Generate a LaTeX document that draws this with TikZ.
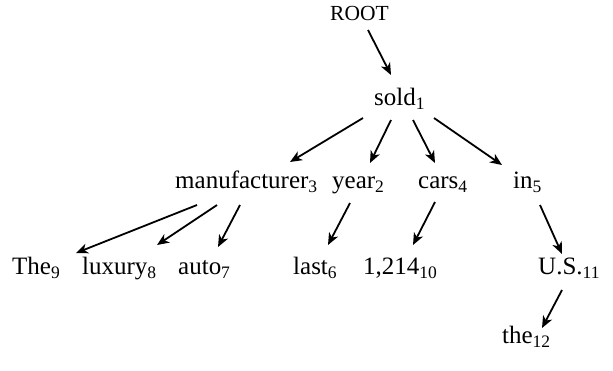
\documentclass[tikz,border=0pt]{standalone}
\usepackage{fontspec}
\setmainfont{Liberation Serif}
\usetikzlibrary{arrows.meta}
\newcommand\ix[1]{\raisebox{-0.18em}{\fontsize{17.5}{18}\selectfont #1}}
\begin{document}
\begin{tikzpicture}[x=1pt,y=-1pt,
  word/.style={anchor=base west,inner sep=0pt,font=\fontsize{25}{28}\selectfont},
  rootw/.style={anchor=base west,inner sep=0pt,font=\fontsize{21.5}{24}\selectfont},
  dep/.style={-{Stealth[length=12pt,width=10pt,inset=3.5pt]},line width=1.8pt}]
\useasboundingbox (0,0) rectangle (613,370);
\node[rootw] (root) at (330,20) {ROOT};
\node[word] (sold) at (374,105) {sold\ix{1}};
\node[word] (manu) at (175,188) {manufacturer\ix{3}};
\node[word] (year) at (332,188) {year\ix{2}};
\node[word] (cars) at (418,188) {cars\ix{4}};
\node[word] (in) at (513,188) {in\ix{5}};
\node[word] (the9) at (12,274) {The\ix{9}};
\node[word] (lux) at (82,274) {luxury\ix{8}};
\node[word] (auto) at (178,274) {auto\ix{7}};
\node[word] (last) at (293,274) {last\ix{6}};
\node[word] (num) at (363,274) {1,214\ix{10}};
\node[word] (us) at (538,274) {U.S.\ix{11}};
\node[word] (the12) at (502,343) {the\ix{12}};
\draw[dep] ([xshift=38pt,yshift=-10pt]root.base west) -- ([xshift=17pt,yshift=30pt]sold.base west);
\draw[dep] ([xshift=-11pt,yshift=-13pt]sold.base west) -- ([xshift=115pt,yshift=26pt]manu.base west);
\draw[dep] ([xshift=17pt,yshift=-15pt]sold.base west) -- ([xshift=38pt,yshift=25pt]year.base west);
\draw[dep] ([xshift=39pt,yshift=-15pt]sold.base west) -- ([xshift=17pt,yshift=25pt]cars.base west);
\draw[dep] ([xshift=60pt,yshift=-13pt]sold.base west) -- ([xshift=-11pt,yshift=23pt]in.base west);
\draw[dep] ([xshift=22pt,yshift=-17pt]manu.base west) -- ([xshift=64pt,yshift=21pt]the9.base west);
\draw[dep] ([xshift=42pt,yshift=-17pt]manu.base west) -- ([xshift=75pt,yshift=29pt]lux.base west);
\draw[dep] ([xshift=65pt,yshift=-17pt]manu.base west) -- ([xshift=40pt,yshift=27pt]auto.base west);
\draw[dep] ([xshift=18pt,yshift=-15pt]year.base west) -- ([xshift=35pt,yshift=29pt]last.base west);
\draw[dep] ([xshift=17pt,yshift=-14pt]cars.base west) -- ([xshift=50pt,yshift=29pt]num.base west);
\draw[dep] ([xshift=27pt,yshift=-17pt]in.base west) -- ([xshift=24pt,yshift=20pt]us.base west);
\draw[dep] ([xshift=24pt,yshift=-16pt]us.base west) -- ([xshift=40pt,yshift=15pt]the12.base west);
\end{tikzpicture}
\end{document}
